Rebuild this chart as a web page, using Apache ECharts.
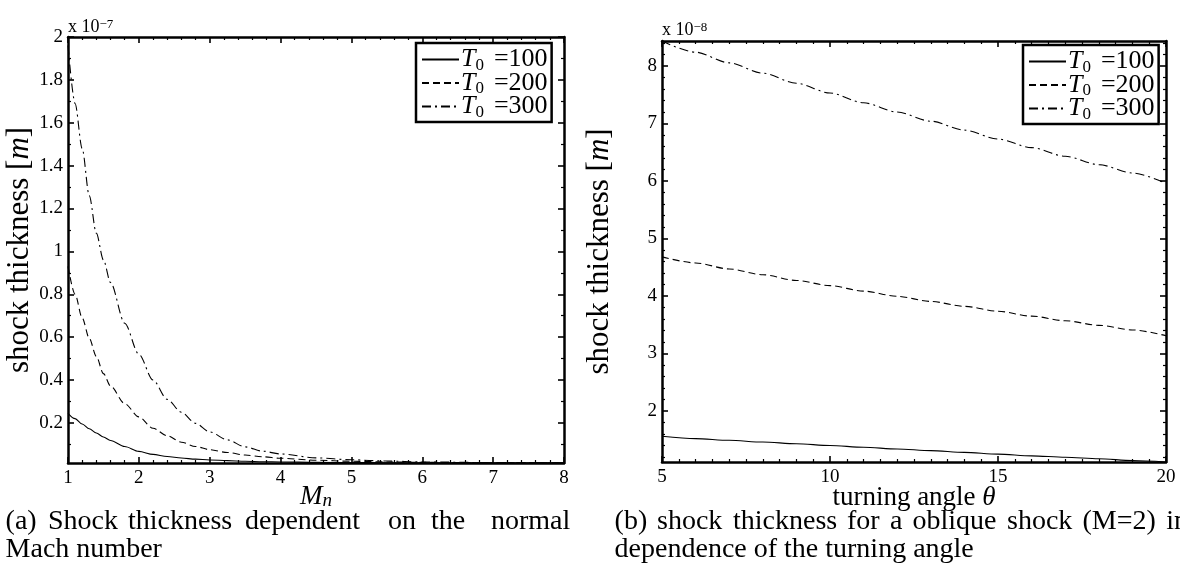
<!DOCTYPE html>
<html><head><meta charset="utf-8">
<script src="https://cdn.jsdelivr.net/npm/echarts@6/dist/echarts.min.js"></script>
<style>html,body{margin:0;padding:0;background:#fff}#c{width:1180px;height:587px}</style>
</head><body><div id="c"></div><script>
// ---------- data (thickness in units of the axis multiplier) ----------
const machN      = [1, 1.1, 1.2, 1.3, 1.4, 1.5, 1.6, 1.8, 2, 2.2, 2.4, 2.6, 2.8, 3, 3.25, 3.5, 3.75, 4, 4.5, 5, 5.5, 6, 7, 8];
const thickA100  = [0.245, 0.220, 0.195, 0.173, 0.153, 0.134, 0.118, 0.090, 0.067, 0.053, 0.043, 0.036, 0.031, 0.027, 0.024, 0.021, 0.019, 0.018, 0.016, 0.015, 0.0145, 0.014, 0.0137, 0.0135];
const thickA200  = [0.93, 0.80, 0.69, 0.595, 0.51, 0.43, 0.372, 0.29, 0.228, 0.175, 0.14, 0.11, 0.09, 0.075, 0.062, 0.05, 0.042, 0.035, 0.026, 0.021, 0.018, 0.016, 0.014, 0.0135];
const thickA300  = [1.96, 1.69, 1.48, 1.26, 1.085, 0.96, 0.855, 0.665, 0.52, 0.40, 0.31, 0.25, 0.198, 0.158, 0.121, 0.088, 0.068, 0.055, 0.037, 0.028, 0.022, 0.018, 0.015, 0.014];

const theta      = [5, 6, 7, 8, 9, 10, 11, 12, 13, 14, 15, 16, 17, 18, 19, 20];
const thickB100  = [1.56, 1.52, 1.49, 1.46, 1.43, 1.40, 1.37, 1.34, 1.31, 1.28, 1.25, 1.22, 1.195, 1.17, 1.14, 1.113];
const thickB200  = [4.68, 4.575, 4.47, 4.37, 4.27, 4.18, 4.085, 3.995, 3.905, 3.82, 3.735, 3.65, 3.57, 3.49, 3.41, 3.31];
const thickB300  = [8.435, 8.24, 8.055, 7.875, 7.70, 7.53, 7.36, 7.20, 7.04, 6.885, 6.73, 6.58, 6.43, 6.285, 6.14, 5.96];

const seriesNames = ['T0 =100', 'T0 =200', 'T0 =300'];

const xTicksA = [1, 2, 3, 4, 5, 6, 7, 8];
const yTicksA = [0.2, 0.4, 0.6, 0.8, 1, 1.2, 1.4, 1.6, 1.8, 2];
const xTicksB = [5, 10, 15, 20];
const yTicksB = [2, 3, 4, 5, 6, 7, 8];
const xRangeA = [1, 8],  yRangeA = [0.013, 2];
const xRangeB = [5, 20], yRangeB = [1.113, 8.435];

// minor tick positions (axis decoration only)
function minorTicks(from, to, step, majors) {
  const out = [];
  for (let v = from; v <= to + 1e-9; v += step) {
    const r = Math.round(v * 1000) / 1000;
    if (!majors.some(m => Math.abs(m - r) < 1e-6)) out.push(r);
  }
  return out;
}
const xMinorA = minorTicks(1, 8, 0.2, xTicksA);
const yMinorA = minorTicks(0.1, 2, 0.1, yTicksA);
const xMinorB = minorTicks(5, 20, 0.5, xTicksB);
const yMinorB = minorTicks(1.2, 8.4, 0.2, yTicksB);

// ---------- styling ----------
const SERIF = '"Liberation Serif", "Times New Roman", serif';
const BLACK = '#000';
const tickFont = {show: true, color: BLACK, fontFamily: SERIF, fontSize: 19};

function axisGroup(g, dim, range, majors, minors, labelOpt, nameOpt, minorNameOpt) {
  const posA = dim === 'x' ? 'bottom' : 'left';
  const posB = dim === 'x' ? 'top' : 'right';
  const base = {gridIndex: g, type: 'value', min: range[0], max: range[1], splitLine: {show: false}, nameMoveOverlap: false};
  const line = {show: true, onZero: false, lineStyle: {color: BLACK, width: 2.5}};
  const majorTick = {show: true, inside: true, length: 6, customValues: majors, lineStyle: {color: BLACK, width: 1.6}};
  const minorTick = {show: true, inside: true, length: 3, customValues: minors, lineStyle: {color: BLACK, width: 1.2}};
  return [
    Object.assign({}, base, {position: posA, axisLine: line, axisTick: majorTick,
      axisLabel: Object.assign({customValues: majors}, tickFont, labelOpt)}, nameOpt || {}),
    Object.assign({}, base, {position: posA, axisLine: {show: false}, axisTick: minorTick, axisLabel: {show: false}}, minorNameOpt || {}),
    Object.assign({}, base, {position: posB, axisLine: line, axisTick: majorTick, axisLabel: {show: false}}),
    Object.assign({}, base, {position: posB, axisLine: {show: false}, axisTick: minorTick, axisLabel: {show: false}})
  ];
}

const nameRich = {
  a: {fontFamily: SERIF, fontSize: 27, color: BLACK},
  i: {fontFamily: SERIF, fontSize: 27, fontStyle: 'italic', color: BLACK},
  m: {fontFamily: SERIF, fontSize: 27, fontStyle: 'italic', color: BLACK, lineHeight: 26},
  n: {fontFamily: SERIF, fontSize: 19, fontStyle: 'italic', color: BLACK, lineHeight: 12, verticalAlign: 'bottom'}
};
const yNameRich = {
  a: {fontFamily: SERIF, fontSize: 31, color: BLACK},
  i: {fontFamily: SERIF, fontSize: 31, fontStyle: 'italic', color: BLACK}
};
const multRich = {
  a: {fontFamily: SERIF, fontSize: 18, color: BLACK, lineHeight: 18},
  b: {fontFamily: SERIF, fontSize: 13, color: BLACK, lineHeight: 4, verticalAlign: 'top'}
};
const fmtNum = v => String(v);

const xAxes = [].concat(
  axisGroup(0, 'x', xRangeA, xTicksA, xMinorA, {margin: 6, formatter: fmtNum},
    {name: '{m|M}{n|n}', nameLocation: 'middle', nameGap: 21, nameTextStyle: {rich: nameRich}}),
  axisGroup(1, 'x', xRangeB, xTicksB, xMinorB, {margin: 6, formatter: fmtNum},
    {name: '{a|turning angle }{i|θ}', nameLocation: 'middle', nameGap: 22, nameTextStyle: {rich: nameRich}})
);
const yAxes = [].concat(
  axisGroup(0, 'y', yRangeA, yTicksA, yMinorA, {margin: 5, formatter: fmtNum},
    {name: '{a|shock thickness [}{i|m}{a|]}', nameLocation: 'middle', nameGap: 33, nameTextStyle: {rich: yNameRich}},
    {name: '{a|x 10}{b|−7}', nameLocation: 'end', nameGap: 1, nameTextStyle: {align: 'left', rich: multRich}}),
  axisGroup(1, 'y', yRangeB, yTicksB, yMinorB, {margin: 5, formatter: fmtNum},
    {name: '{a|shock thickness [}{i|m}{a|]}', nameLocation: 'middle', nameGap: 47, nameTextStyle: {rich: yNameRich}},
    {name: '{a|x 10}{b|−8}', nameLocation: 'end', nameGap: 2, nameTextStyle: {align: 'left', rich: multRich}})
);

const dashTypes = ['solid', [7, 4], [9, 4, 2, 4]];
function mkSeries(name, xs, ys, g, k) {
  return {
    type: 'line', name: name, xAxisIndex: g * 4, yAxisIndex: g * 4,
    data: xs.map((x, i) => [x, ys[i]]), symbol: 'none', smooth: 0.3, smoothMonotone: 'x',
    lineStyle: {color: BLACK, width: 1.1, type: dashTypes[k]}, itemStyle: {color: BLACK},
    silent: true, clip: true
  };
}
const seriesA = [thickA100, thickA200, thickA300];
const seriesB = [thickB100, thickB200, thickB300];
const series = [];
seriesA.forEach((d, k) => series.push(mkSeries(seriesNames[k], machN, d, 0, k)));
seriesB.forEach((d, k) => series.push(mkSeries(seriesNames[k], theta, d, 1, k)));

const legendRich = {
  t: {fontFamily: SERIF, fontSize: 26, fontStyle: 'italic', color: BLACK, lineHeight: 21},
  s: {fontFamily: SERIF, fontSize: 17, color: BLACK, lineHeight: 9, padding: [12, 0, 0, 0]},
  v: {fontFamily: SERIF, fontSize: 26, color: BLACK, lineHeight: 21, padding: [0, 0, 0, 10]}
};
function legendAt(left, top) {
  return {
    data: seriesNames, orient: 'vertical', left: left, top: top, selectedMode: false,
    backgroundColor: '#fff', borderColor: BLACK, borderWidth: 2.5, borderRadius: 0,
    padding: [2, 4, 1, 5], itemWidth: 37, itemHeight: 12, itemGap: -5.5,
    itemStyle: {opacity: 0, borderWidth: 0},
    lineStyle: {opacity: 1},
    textStyle: {padding: [0, 0, 0, -3], rich: legendRich},
    formatter: name => '{t|T}{s|0}{v|=' + name.split('=')[1] + '}'
  };
}

// caption words (justified first lines)
const capFont = '28px ' + SERIF;
const capA1 = [['(a)', 5.6], ['Shock', 48], ['thickness', 128], ['dependent', 245], ['on', 388], ['the', 431], ['normal', 491]];
const capA2 = [['Mach number', 5.6]];
const capB1 = [['(b)', 614.6], ['shock', 657], ['thickness', 733], ['for', 847], ['a', 890], ['oblique', 912.5], ['shock', 1007], ['(M=2)', 1082.5], ['in', 1166.2]];
const capB2 = [['dependence of the turning angle', 614.6]];
const graphics = [];
function addCap(words, y) {
  words.forEach(w => graphics.push({type: 'text', x: w[1], y: y, silent: true,
    style: {text: w[0], font: capFont, fill: BLACK, textAlign: 'left', textVerticalAlign: 'middle'}}));
}
addCap(capA1, 522); addCap(capA2, 550);
addCap(capB1, 522); addCap(capB2, 550);

const chart = echarts.init(document.getElementById('c'), null, {renderer: 'canvas'});
chart.setOption({
  animation: false,
  backgroundColor: '#fff',
  grid: [
    {left: 68, top: 37, width: 496, height: 426, containLabel: false},
    {left: 662, top: 41, width: 504, height: 421, containLabel: false}
  ],
  xAxis: xAxes,
  yAxis: yAxes,
  legend: [legendAt(416, 43), legendAt(1023, 45)],
  series: series,
  graphic: graphics
});
</script></body></html>
